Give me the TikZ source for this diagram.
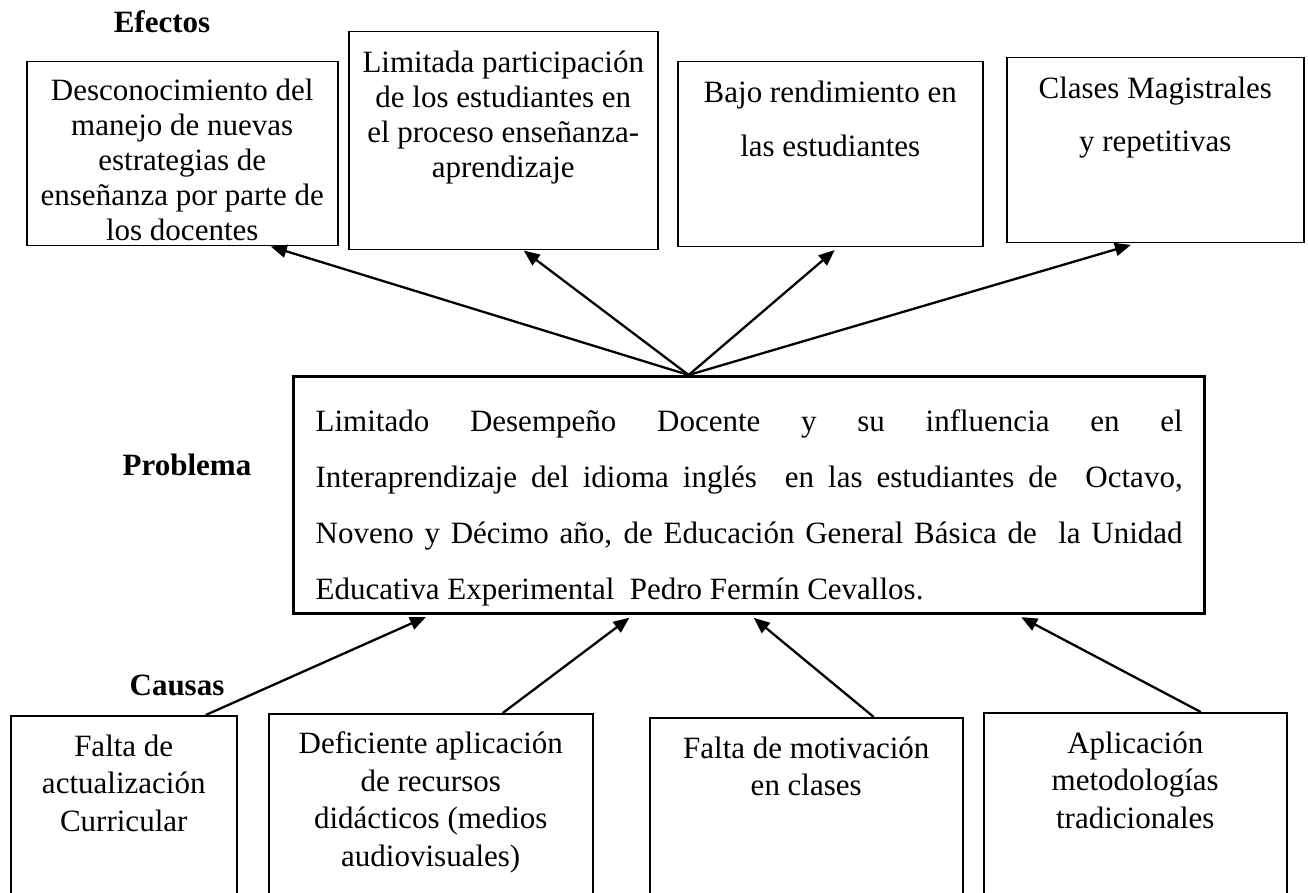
\documentclass[tikz,border=0pt]{standalone}
\usepackage{fontspec}
\setmainfont{Liberation Serif}
\usepackage{tikz}
\usetikzlibrary{arrows.meta}
\tikzstyle{caja} = [draw, line width=1.5pt, inner sep=0pt, anchor=north west]
\tikzstyle{titulo} = [font=\fontsize{31}{36}\selectfont\bfseries]
\tikzstyle{flecha} = [-{Triangle[length=16pt,width=13pt]}, line width=2.3pt]
\newcommand{\cajatexto}[4]{\parbox[t][#2][t]{#1}{\centering\vspace*{#3}#4}}

\begin{document}
\begin{tikzpicture}[yscale=-1]
	\useasboundingbox (0pt,0pt) rectangle (1308pt,893pt);
	\clip (0pt,0pt) rectangle (1308pt,893pt);
	% titulos
	\node[titulo] (efectos) at (162pt,22pt) {Efectos};
	\node[titulo] (problema) at (187pt,465pt) {Problema};
	\node[titulo] (causas) at (177pt,685pt) {Causas};
	% efectos
	\node[caja, font=\fontsize{31}{35}\selectfont] (e1) at (26pt,61pt) {\cajatexto{311pt}{184pt}{17pt}{Desconocimiento del\\manejo de nuevas\\estrategias de\\enseñanza por parte de\\los docentes}};
	\node[caja, font=\fontsize{31}{35}\selectfont] (e2) at (348pt,31pt) {\cajatexto{309pt}{218pt}{19pt}{Limitada participación\\de los estudiantes en\\el proceso enseñanza-\\aprendizaje}};
	\node[caja, font=\fontsize{31}{54}\selectfont] (e3) at (677pt,61pt) {\cajatexto{305pt}{185pt}{19pt}{Bajo rendimiento en\\las estudiantes}};
	\node[caja, font=\fontsize{31}{53}\selectfont] (e4) at (1006pt,57pt) {\cajatexto{297pt}{185pt}{19pt}{Clases Magistrales\\y repetitivas}};
	% problema
	\node[caja, line width=3.3pt, minimum width=911pt, font=\fontsize{31}{56}\selectfont] (prob) at (292pt,375pt) {\parbox[t][237pt][t]{867pt}{\vspace*{33pt}Limitado Desempeño Docente y su influencia en el\linebreak
		Interaprendizaje del idioma inglés\ \ en las estudiantes de\ \ Octavo,\linebreak
		Noveno y Décimo año, de Educación General Básica de\ \ la Unidad\linebreak
		Educativa Experimental\ \ Pedro Fermín Cevallos.}};
	% causas
	\node[caja, font=\fontsize{31}{37.5}\selectfont] (c1) at (10pt,715pt) {\cajatexto{226pt}{220pt}{19pt}{Falta de\\actualización\\Curricular}};
	\node[caja, font=\fontsize{31}{37.5}\selectfont] (c2) at (268pt,713pt) {\cajatexto{324pt}{220pt}{18pt}{Deficiente aplicación\\de recursos\\didácticos (medios\\audiovisuales)}};
	\node[caja, font=\fontsize{31}{37.5}\selectfont] (c3) at (649pt,717pt) {\cajatexto{313pt}{220pt}{19pt}{Falta de motivación\\en clases}};
	\node[caja, font=\fontsize{31}{37.5}\selectfont] (c4) at (983pt,712pt) {\cajatexto{303pt}{220pt}{19pt}{Aplicación\\metodologías\\tradicionales}};
	% flechas hacia los efectos
	\draw[flecha] ([xshift=-60.5pt]prob.north) -- ([xshift=88.5pt]e1.south);
	\draw[flecha] ([xshift=-60.5pt]prob.north) -- ([xshift=20.5pt]e2.south);
	\draw[flecha, shorten >=4pt] ([xshift=-60.5pt]prob.north) -- ([xshift=7.5pt]e3.south);
	\draw[flecha, shorten >=5pt] ([xshift=-60.5pt]prob.north) -- ([xshift=-19.5pt]e4.south);
	% flechas desde las causas
	\draw[flecha, shorten >=4pt] ([xshift=82pt]c1.north) -- ([xshift=-319.5pt]prob.south);
	\draw[flecha, shorten >=4pt] ([xshift=72pt]c2.north) -- ([xshift=-116.5pt]prob.south);
	\draw[flecha, shorten >=4pt] ([xshift=67.5pt]c3.north) -- ([xshift=1.5pt]prob.south);
	\draw[flecha, shorten >=4pt] ([xshift=65.5pt]c4.north) -- ([xshift=268.5pt]prob.south);
\end{tikzpicture}
\end{document}
